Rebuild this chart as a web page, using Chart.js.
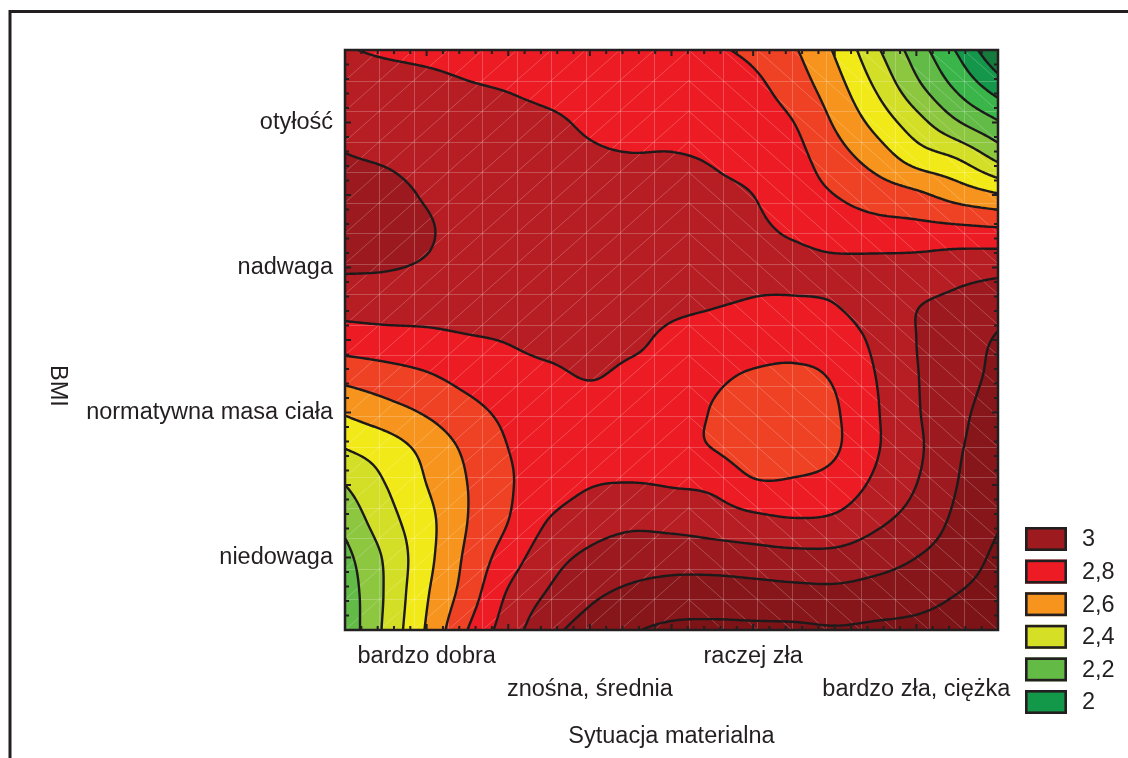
<!DOCTYPE html>
<html>
<head>
<meta charset="utf-8">
<script src="https://cdn.jsdelivr.net/npm/chart.js@4/dist/chart.umd.min.js"></script>
<style>
  html, body { margin: 0; padding: 0; background: #ffffff; }
  #wrap { width: 1128px; height: 758px; position: relative; }
</style>
</head>
<body>
<div id="wrap"><canvas id="chart" width="1128" height="758"></canvas></div>
<script>
// Category axes
const situationLabels = ['bardzo dobra', 'znośna, średnia', 'raczej zła', 'bardzo zła, ciężka'];
const bmiLabels = ['niedowaga', 'normatywna masa ciała', 'nadwaga', 'otyłość'];

// Surface nodes (axis units: categories sit at 1..4)
const nodeX = [0.5, 0.75, 1, 1.25, 1.5, 1.75, 2, 2.25, 2.5, 2.75, 3, 3.25, 3.5, 3.75, 4, 4.25, 4.5];
const nodeY = [0.5, 0.75, 1, 1.25, 1.5, 1.75, 2, 2.25, 2.5, 2.75, 3, 3.25, 3.5, 3.75, 4, 4.25, 4.5];

// Surface values, one row per BMI position (from bottom to top), left to right along nodeX
const surfY050 = [2.23, 2.42, 2.61, 2.80, 2.95, 3.07, 3.14, 3.19, 3.22, 3.22, 3.22, 3.22, 3.21, 3.22, 3.23, 3.25, 3.27];
const surfY075 = [2.24, 2.41, 2.59, 2.745, 2.91, 3.01, 3.08, 3.12, 3.14, 3.15, 3.14, 3.13, 3.125, 3.14, 3.16, 3.20, 3.24];
const surfY100 = [2.27, 2.415, 2.57, 2.72, 2.85, 2.96, 3.02, 3.05, 3.06, 3.05, 3.04, 3.03, 3.03, 3.06, 3.10, 3.15, 3.22];
const surfY125 = [2.33, 2.46, 2.57, 2.70, 2.80, 2.905, 2.955, 2.98, 2.97, 2.955, 2.93, 2.91, 2.92, 2.98, 3.04, 3.12, 3.19];
const surfY150 = [2.40, 2.50, 2.60, 2.70, 2.79, 2.85, 2.895, 2.905, 2.895, 2.88, 2.815, 2.815, 2.84, 2.92, 3.00, 3.10, 3.16];
const surfY175 = [2.50, 2.55, 2.63, 2.72, 2.80, 2.83, 2.84, 2.84, 2.83, 2.80, 2.76, 2.76, 2.79, 2.89, 2.98, 3.09, 3.13];
const surfY200 = [2.61, 2.66, 2.71, 2.77, 2.82, 2.85, 2.86, 2.86, 2.85, 2.795, 2.76, 2.75, 2.79, 2.89, 2.99, 3.08, 3.13];
const surfY225 = [2.73, 2.76, 2.79, 2.83, 2.86, 2.88, 2.905, 2.88, 2.87, 2.82, 2.79, 2.785, 2.81, 2.90, 2.995, 3.065, 3.12];
const surfY250 = [2.85, 2.86, 2.87, 2.89, 2.905, 2.93, 2.94, 2.92, 2.88, 2.86, 2.845, 2.83, 2.845, 2.92, 3.00, 3.05, 3.11];
const surfY275 = [2.94, 2.95, 2.95, 2.95, 2.94, 2.95, 2.96, 2.95, 2.92, 2.905, 2.895, 2.89, 2.90, 2.95, 2.995, 3.02, 3.055];
const surfY300 = [3.01, 3.005, 2.99, 2.96, 2.95, 2.95, 2.95, 2.94, 2.93, 2.92, 2.91, 2.92, 2.92, 2.93, 2.94, 2.96, 2.97];
const surfY325 = [3.04, 3.04, 3.01, 2.96, 2.94, 2.93, 2.93, 2.93, 2.92, 2.91, 2.91, 2.89, 2.855, 2.84, 2.835, 2.83, 2.82];
const surfY350 = [3.03, 3.03, 2.99, 2.95, 2.94, 2.93, 2.92, 2.92, 2.91, 2.91, 2.90, 2.85, 2.80, 2.755, 2.72, 2.66, 2.61];
const surfY375 = [3.005, 2.99, 2.96, 2.94, 2.93, 2.92, 2.91, 2.905, 2.905, 2.895, 2.87, 2.83, 2.745, 2.66, 2.56, 2.50, 2.38];
const surfY400 = [2.97, 2.95, 2.94, 2.93, 2.92, 2.91, 2.89, 2.87, 2.87, 2.86, 2.845, 2.80, 2.69, 2.57, 2.44, 2.31, 2.21];
const surfY425 = [2.935, 2.93, 2.92, 2.905, 2.895, 2.88, 2.87, 2.86, 2.85, 2.84, 2.82, 2.75, 2.64, 2.49, 2.325, 2.18, 2.05];
const surfY450 = [2.905, 2.89, 2.88, 2.87, 2.86, 2.85, 2.84, 2.83, 2.82, 2.81, 2.78, 2.71, 2.59, 2.42, 2.25, 2.09, 1.91];

const surfaceRows = [surfY050, surfY075, surfY100, surfY125, surfY150, surfY175, surfY200, surfY225,
  surfY250, surfY275, surfY300, surfY325, surfY350, surfY375, surfY400, surfY425, surfY450];

// Contour levels and the fill of each band (band k lies between level k-1 and level k)
const contourLevels = [2.0, 2.1, 2.2, 2.3, 2.4, 2.5, 2.6, 2.7, 2.8, 2.9, 3.0, 3.1, 3.2];
const bandColors = ['#177a3d', '#14974a', '#3ab54a', '#62bb46', '#8dc63f', '#d3df26', '#f2e919',
  '#f7941d', '#ef4123', '#ed1c24', '#b71e24', '#9c1a1f', '#87161a', '#7b1317'];

// Legend
const legendLabels = ['3', '2,8', '2,6', '2,4', '2,2', '2'];
const legendColors = ['#9d1a1f', '#ed1c24', '#f7941d', '#d5df26', '#63bb46', '#13984a'];

const INK = '#231f20';
const FONT = "'Liberation Sans', Arial, Helvetica, sans-serif";

const surfacePoints = [];
nodeY.forEach((vy, j) => nodeX.forEach((vx, i) => surfacePoints.push({ x: vx, y: vy, z: surfaceRows[j][i] })));

// Bicubic (Catmull-Rom) sampler over the node grid
function makeSampler(points) {
  const xs = [...new Set(points.map(p => p.x))].sort((a, b) => a - b);
  const ys = [...new Set(points.map(p => p.y))].sort((a, b) => a - b);
  const nx = xs.length, ny = ys.length;
  const z = new Float64Array(nx * ny);
  points.forEach(p => { z[ys.indexOf(p.y) * nx + xs.indexOf(p.x)] = p.z; });
  const dx = xs[1] - xs[0], dy = ys[1] - ys[0];
  function at(i, j) {
    if (i < 0) return 2 * at(0, j) - at(1, j);
    if (i >= nx) return 2 * at(nx - 1, j) - at(nx - 2, j);
    if (j < 0) return 2 * at(i, 0) - at(i, 1);
    if (j >= ny) return 2 * at(i, ny - 1) - at(i, ny - 2);
    return z[j * nx + i];
  }
  const cr = (p0, p1, p2, p3, t) =>
    p1 + 0.5 * t * (p2 - p0 + t * (2 * p0 - 5 * p1 + 4 * p2 - p3 + t * (3 * (p1 - p2) + p3 - p0)));
  return function (vx, vy) {
    let fx = Math.min(Math.max((vx - xs[0]) / dx, 0), nx - 1);
    let fy = Math.min(Math.max((vy - ys[0]) / dy, 0), ny - 1);
    const i = Math.min(Math.floor(fx), nx - 2), j = Math.min(Math.floor(fy), ny - 2);
    const tx = fx - i, ty = fy - j;
    const r = [];
    for (let m = -1; m <= 2; m++) {
      r.push(cr(at(i - 1, j + m), at(i, j + m), at(i + 1, j + m), at(i + 2, j + m), tx));
    }
    return cr(r[0], r[1], r[2], r[3], ty);
  };
}

function hexToRgb(h) {
  const n = parseInt(h.slice(1), 16);
  return [(n >> 16) & 255, (n >> 8) & 255, n & 255];
}

function bandIndex(v) {
  let k = 0;
  while (k < contourLevels.length && v >= contourLevels[k]) k++;
  return k;
}

// Filled contour bands, facet seams and contour lines
const contourPlugin = {
  id: 'contourSurface',
  beforeDatasetsDraw(chart) {
    const { ctx, chartArea: a, scales: { x: sx, y: sy } } = chart;
    const sample = makeSampler(chart.data.datasets[0].data);
    const w = Math.round(a.right - a.left), h = Math.round(a.bottom - a.top);

    // bands, pixel by pixel
    const off = document.createElement('canvas');
    off.width = w; off.height = h;
    const octx = off.getContext('2d');
    const img = octx.createImageData(w, h);
    const rgb = bandColors.map(hexToRgb);
    const colV = new Float64Array(w);
    for (let px = 0; px < w; px++) colV[px] = sx.getValueForPixel(a.left + px + 0.5);
    for (let py = 0; py < h; py++) {
      const vy = sy.getValueForPixel(a.top + py + 0.5);
      for (let px = 0; px < w; px++) {
        const c = rgb[bandIndex(sample(colV[px], vy))];
        const o = (py * w + px) * 4;
        img.data[o] = c[0]; img.data[o + 1] = c[1]; img.data[o + 2] = c[2]; img.data[o + 3] = 255;
      }
    }
    octx.putImageData(img, 0, 0);

    ctx.save();
    ctx.beginPath();
    ctx.rect(a.left, a.top, a.right - a.left, a.bottom - a.top);
    ctx.clip();
    ctx.drawImage(off, a.left, a.top);

    // faint facet seams of the rendered surface
    const cells = 19;
    const gx = [], gy = [];
    for (let k = 0; k <= cells; k++) {
      gx.push(sx.getPixelForValue(0.5 + 4 * k / cells));
      gy.push(sy.getPixelForValue(0.5 + 4 * k / cells));
    }
    ctx.strokeStyle = 'rgba(255,255,255,0.22)';
    ctx.lineWidth = 1;
    ctx.beginPath();
    for (let k = 1; k < cells; k++) {
      ctx.moveTo(Math.round(gx[k]) + 0.5, a.top); ctx.lineTo(Math.round(gx[k]) + 0.5, a.bottom);
      ctx.moveTo(a.left, Math.round(gy[k]) + 0.5); ctx.lineTo(a.right, Math.round(gy[k]) + 0.5);
    }
    for (let k = 0; k < cells; k++) {
      for (let l = 0; l < cells; l++) {
        const x0 = gx[k], x1 = gx[k + 1], yb = gy[l], yt = gy[l + 1];
        if (k < 10) { ctx.moveTo(x0, yb); ctx.lineTo(x1, yt); }
        else { ctx.moveTo(x0, yt); ctx.lineTo(x1, yb); }
      }
    }
    ctx.stroke();

    // contour lines: marching squares on a fine sampling grid
    const step = 2;
    const nx = Math.ceil(w / step) + 1, ny = Math.ceil(h / step) + 1;
    const xs = new Float64Array(nx), ys = new Float64Array(ny);
    for (let i = 0; i < nx; i++) xs[i] = Math.min(a.left + i * step, a.right);
    for (let j = 0; j < ny; j++) ys[j] = Math.min(a.top + j * step, a.bottom);
    const g = new Float64Array(nx * ny);
    for (let j = 0; j < ny; j++) {
      const vy = sy.getValueForPixel(ys[j]);
      for (let i = 0; i < nx; i++) g[j * nx + i] = sample(sx.getValueForPixel(xs[i]), vy);
    }
    ctx.strokeStyle = '#1c1a1b';
    ctx.lineWidth = 2.4;
    ctx.lineCap = 'round';
    ctx.lineJoin = 'round';
    contourLevels.forEach(L => {
      ctx.beginPath();
      for (let j = 0; j < ny - 1; j++) {
        for (let i = 0; i < nx - 1; i++) {
          const z00 = g[j * nx + i], z10 = g[j * nx + i + 1];
          const z01 = g[(j + 1) * nx + i], z11 = g[(j + 1) * nx + i + 1];
          const c = (z00 >= L ? 1 : 0) | (z10 >= L ? 2 : 0) | (z11 >= L ? 4 : 0) | (z01 >= L ? 8 : 0);
          if (c === 0 || c === 15) continue;
          const x0 = xs[i], x1 = xs[i + 1], y0 = ys[j], y1 = ys[j + 1];
          const T = () => [x0 + (x1 - x0) * (L - z00) / (z10 - z00), y0];
          const R = () => [x1, y0 + (y1 - y0) * (L - z10) / (z11 - z10)];
          const B = () => [x0 + (x1 - x0) * (L - z01) / (z11 - z01), y1];
          const Lf = () => [x0, y0 + (y1 - y0) * (L - z00) / (z01 - z00)];
          const seg = (p, q) => { ctx.moveTo(p[0], p[1]); ctx.lineTo(q[0], q[1]); };
          const centreHigh = (z00 + z10 + z01 + z11) / 4 >= L;
          switch (c) {
            case 1: case 14: seg(T(), Lf()); break;
            case 2: case 13: seg(T(), R()); break;
            case 3: case 12: seg(Lf(), R()); break;
            case 4: case 11: seg(R(), B()); break;
            case 6: case 9: seg(T(), B()); break;
            case 7: case 8: seg(Lf(), B()); break;
            case 5:
              if (centreHigh) { seg(T(), R()); seg(Lf(), B()); } else { seg(T(), Lf()); seg(R(), B()); }
              break;
            case 10:
              if (centreHigh) { seg(T(), Lf()); seg(R(), B()); } else { seg(T(), R()); seg(Lf(), B()); }
              break;
          }
        }
      }
      ctx.stroke();
    });
    ctx.restore();
  },
  afterDraw(chart) {
    const { ctx, chartArea: a, scales: { x: sx, y: sy } } = chart;
    ctx.save();

    // plot frame
    ctx.strokeStyle = INK;
    ctx.lineWidth = 2.5;
    ctx.strokeRect(a.left, a.top, a.right - a.left, a.bottom - a.top);

    // inward tick marks every 0.1, longer every 0.5
    ctx.lineWidth = 2;
    ctx.beginPath();
    for (let k = 0; k <= 40; k++) {
      const v = 0.5 + k * 0.1;
      const len = (k % 5 === 0) ? 6 : 4;
      const px = sx.getPixelForValue(v), py = sy.getPixelForValue(v);
      ctx.moveTo(px, a.bottom); ctx.lineTo(px, a.bottom - len);
      ctx.moveTo(px, a.top); ctx.lineTo(px, a.top + len);
      ctx.moveTo(a.left, py); ctx.lineTo(a.left + len, py);
      ctx.moveTo(a.right, py); ctx.lineTo(a.right - len, py);
    }
    ctx.stroke();

    // outer page frame
    ctx.lineWidth = 3;
    ctx.beginPath();
    ctx.moveTo(10, 758); ctx.lineTo(10, 11.5); ctx.lineTo(1128, 11.5);
    ctx.stroke();

    // vertical axis title, reading downwards
    ctx.fillStyle = INK;
    ctx.font = `23.5px ${FONT}`;
    ctx.save();
    ctx.translate(57, 386);
    ctx.rotate(Math.PI / 2);
    ctx.textAlign = 'center';
    ctx.textBaseline = 'middle';
    ctx.fillText('BMI', 0, 0);
    ctx.restore();

    // legend
    const bx = 1025, bw = 42, bh = 24, top0 = 527, gap = 32.6;
    ctx.textAlign = 'left';
    ctx.textBaseline = 'middle';
    legendLabels.forEach((lab, i) => {
      const by = top0 + i * gap;
      ctx.fillStyle = legendColors[i];
      ctx.fillRect(bx, by, bw, bh);
      ctx.strokeStyle = INK;
      ctx.lineWidth = 2.6;
      ctx.strokeRect(bx + 1.3, by + 1.3, bw - 2.6, bh - 2.6);
      ctx.fillStyle = INK;
      ctx.fillText(lab, 1082, by + bh / 2 + 1);
    });
    ctx.restore();
  }
};

new Chart(document.getElementById('chart'), {
  type: 'scatter',
  data: {
    datasets: [{ data: surfacePoints, pointRadius: 0, pointHoverRadius: 0, showLine: false }]
  },
  options: {
    responsive: false,
    animation: false,
    devicePixelRatio: 1,
    events: [],
    layout: { padding: { left: 0, top: 50, right: 130, bottom: 0 } },
    plugins: { legend: { display: false }, tooltip: { enabled: false } },
    scales: {
      x: {
        type: 'linear', min: 0.5, max: 4.5,
        afterBuildTicks: s => { s.ticks = [1, 2, 3, 4].map(v => ({ value: v })); },
        afterFit: s => { s.height = 128; },
        grid: { display: false, drawTicks: false },
        border: { display: false },
        ticks: {
          autoSkip: false, maxRotation: 0, minRotation: 0, padding: 10.5, color: INK,
          font: { family: FONT, size: 23.5, lineHeight: 1.404 },
          callback: v => {
            const i = Math.round(v) - 1;
            return i % 2 === 1 ? ['', situationLabels[i]] : situationLabels[i];
          }
        },
        title: {
          display: true, text: 'Sytuacja materialna', color: INK,
          font: { family: FONT, size: 23.5, lineHeight: 1.2 },
          padding: { top: 0, bottom: 7 }
        }
      },
      y: {
        type: 'linear', min: 0.5, max: 4.5,
        afterBuildTicks: s => { s.ticks = [1, 2, 3, 4].map(v => ({ value: v })); },
        afterFit: s => { s.width = 345; },
        grid: { display: false, drawTicks: false },
        border: { display: false },
        ticks: {
          autoSkip: false, padding: 12, color: INK,
          font: { family: FONT, size: 23.5 },
          callback: v => bmiLabels[Math.round(v) - 1]
        }
      }
    }
  },
  plugins: [contourPlugin]
});
</script>
</body>
</html>
